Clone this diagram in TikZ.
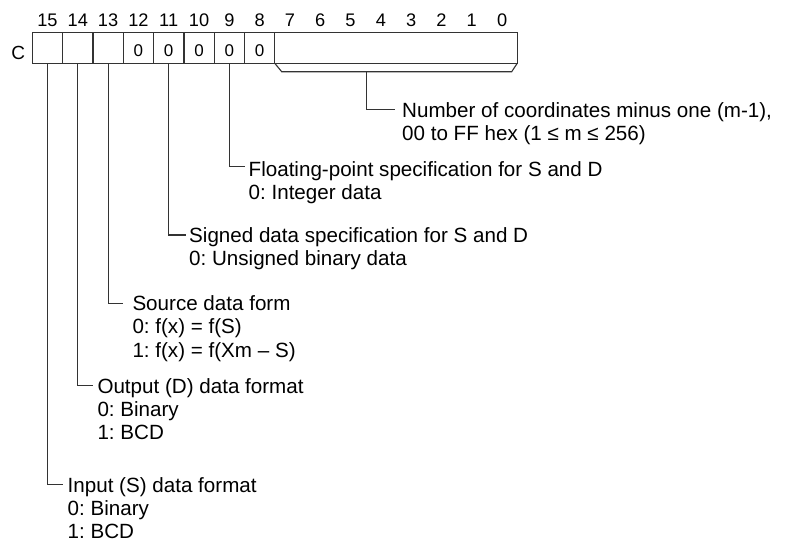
\documentclass[tikz,border=0pt]{standalone}
\usepackage{fontspec}
\setmainfont{Liberation Sans}
\frenchspacing
\definecolor{linegray}{HTML}{333333}
\newcommand{\desclines}[1]{\begin{tabular}[t]{@{}l@{}}#1\end{tabular}}
\begin{document}
\begin{tikzpicture}[x=1pt,y=-1pt,
  ln/.style={draw=linegray, line width=1.1pt},
  cellbox/.style={draw=linegray, line width=1.3pt, minimum height=30.6pt, inner sep=0, outer sep=0},
  bitlbl/.style={font=\fontsize{18.2}{20}\selectfont, inner sep=0},
  zerolbl/.style={font=\fontsize{17}{18}\selectfont, inner sep=0},
  desc/.style={font=\fontsize{20.6}{23.3}\selectfont, anchor=base west, inner sep=0}]
\useasboundingbox (0,0) rectangle (788,541);
% register cells
\foreach \i in {15,...,8}{
  \pgfmathsetmacro\cx{32.3+(15-\i+0.5)*30.31}
  \node[cellbox, minimum width=30.31pt] (b\i) at (\cx,48) {};
}
\node[cellbox, minimum width=242.48pt] (lo) at (396.02,48) {};
% bit numbers
\foreach \i in {0,...,15}{
  \pgfmathsetmacro\cx{32.3+(15-\i+0.5)*30.31}
  \node[bitlbl] (n\i) at (\cx,20.5) {\i};
}
\node[font=\fontsize{19}{20}\selectfont, inner sep=0] (c) at (18.3,53) {C};
% zeros
\foreach \i in {12,...,8}{
  \node[zerolbl] (z\i) at ([yshift=-2.5pt]b\i.center) {0};
}
% bracket under bits 7-0
\coordinate (bl) at (281.7,71.7);
\coordinate (br) at (511.7,71.7);
\coordinate (bs) at (366.3,71.7);
\draw[ln] (lo.south west) -- (bl) -- (br) -- (lo.south east);
% descriptions
\node[desc] (num) at (402,117.3) {\desclines{Number of coordinates minus one (m-1),\\00 to FF hex (1 ≤ m ≤ 256)}};
\node[desc] (fp) at (248.5,176.3) {\desclines{Floating-point specification for S and D\\0: Integer data}};
\node[desc] (sg) at (189,242.3) {\desclines{Signed data specification for S and D\\0: Unsigned binary data}};
\node[desc] (src) at (132.3,310.6) {\desclines{Source data form\\0: f(x) = f(S)\\1: f(x) = f(Xm – S)}};
\node[desc] (out) at (97.3,393) {\desclines{Output (D) data format\\0: Binary\\1: BCD}};
\node[desc] (inp) at (67.5,492.3) {\desclines{Input (S) data format\\0: Binary\\1: BCD}};
% leaders
\draw[ln] (bs) |- ([xshift=-7pt,yshift=8pt]num.base west);
\draw[ln] (b9.south) |- ([xshift=-4pt,yshift=9.5pt]fp.base west);
\draw[ln] (b11.south) |- ([xshift=-3pt,yshift=7.3pt]sg.base west);
\draw[ln] (b13.south) |- ([xshift=-9.5pt,yshift=7.5pt]src.base west);
\draw[ln] (b14.south) |- ([xshift=-4.8pt,yshift=7.3pt]out.base west);
\draw[ln] (b15.south) |- ([xshift=-4.5pt,yshift=7.8pt]inp.base west);
\end{tikzpicture}
\end{document}
